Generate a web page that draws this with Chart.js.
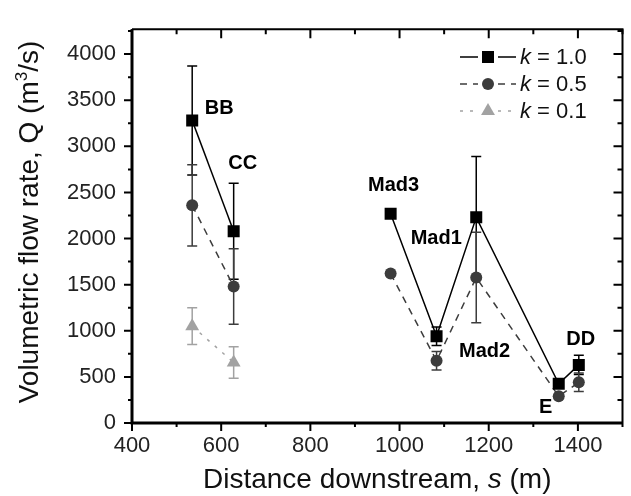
<!DOCTYPE html>
<html>
<head>
<meta charset="utf-8">
<script src="https://cdn.jsdelivr.net/npm/chart.js@4/dist/chart.umd.min.js"></script>
<style>
  html, body { margin: 0; padding: 0; background: #fff; }
  canvas { display: block; }
</style>
</head>
<body>
<canvas id="flowChart" width="631" height="496"></canvas>
<script>
// site positions along the channel (m) and their names
const siteX = [535, 628, 980, 1083, 1172, 1357, 1402];
const siteNames = ['BB', 'CC', 'Mad3', 'Mad2', 'Mad1', 'E', 'DD'];
const breakAfter = 1; // no line between CC and Mad3

// flow rate Q (m3/s) for each k, with error bar half-widths
const k10 = [3280, 2080, 2270, 940, 2230, 425, 630];
const k10Err = [590, 520, 0, 100, 660, 0, 105];
const k05 = [2360, 1480, 1620, 675, 1577, 290, 441];
const k05Err = [440, 410, 0, 100, 490, 0, 100];
const k01 = [1050, 656];
const k01Err = [200, 170];

const seriesLabels = ['1.0', '0.5', '0.1'];
const xTicks = [400, 600, 800, 1000, 1200, 1400];
const yTicks = [0, 500, 1000, 1500, 2000, 2500, 3000, 3500, 4000];

// label offsets in px from the k = 1.0 marker
const labelOffsets = [[27, -12], [9, -68], [3, -28], [48, 15], [-40, 21], [-13, 24], [2, -25]];

const FONT = '"Liberation Sans", Arial, sans-serif';
const colors = ['#000000', '#3c3c3c', '#a2a2a2'];
const dashes = [[], [7, 6], [3, 7]];
const styles = ['rect', 'circle', 'triangle'];
const radii = [8.5, 6, 8];
const errs = [k10Err, k05Err, k01Err];

function pts(vals) {
  return vals.map((v, i) => ({ x: siteX[i], y: v }));
}

function makeSet(i, vals) {
  return {
    label: 'k = ' + seriesLabels[i],
    data: pts(vals),
    borderColor: colors[i],
    backgroundColor: colors[i],
    borderWidth: 1.5,
    borderDash: dashes[i],
    pointStyle: styles[i],
    pointRadius: radii[i],
    pointBorderWidth: 0,
    pointBackgroundColor: colors[i],
    tension: 0,
    segment: {
      borderColor: ctx => ctx.p0DataIndex === breakAfter ? 'transparent' : colors[i]
    }
  };
}

const errorBars = {
  id: 'errorBars',
  beforeDatasetsDraw(chart) {
    const { ctx, scales: { x, y } } = chart;
    ctx.save();
    ctx.lineWidth = 1.5;
    chart.data.datasets.forEach((ds, i) => {
      ctx.strokeStyle = colors[i];
      ds.data.forEach((p, j) => {
        const e = errs[i][j];
        if (!e) return;
        const px = x.getPixelForValue(p.x);
        const top = y.getPixelForValue(p.y + e);
        const bot = y.getPixelForValue(p.y - e);
        ctx.beginPath();
        ctx.moveTo(px, top); ctx.lineTo(px, bot);
        ctx.moveTo(px - 5, top); ctx.lineTo(px + 5, top);
        ctx.moveTo(px - 5, bot); ctx.lineTo(px + 5, bot);
        ctx.stroke();
      });
    });
    ctx.restore();
  }
};

function drawMarker(ctx, style, cx, cy, r) {
  Chart.helpers.drawPoint(ctx, { pointStyle: style, radius: r, borderWidth: 0 }, cx, cy);
}

const frame = {
  id: 'frame',
  afterDraw(chart) {
    const { ctx, chartArea: a, scales: { x, y } } = chart;
    ctx.save();
    ctx.strokeStyle = '#000';
    // frame
    ctx.lineWidth = 3;
    ctx.beginPath();
    ctx.moveTo(a.left, a.top); ctx.lineTo(a.left, a.bottom); ctx.lineTo(a.right, a.bottom);
    ctx.stroke();
    ctx.lineWidth = 2;
    ctx.beginPath();
    ctx.moveTo(a.left, a.top); ctx.lineTo(a.right, a.top); ctx.lineTo(a.right, a.bottom);
    ctx.stroke();
    // ticks
    ctx.lineWidth = 2;
    ctx.beginPath();
    for (let v = 400; v <= 1500; v += 100) {
      const px = x.getPixelForValue(v);
      const len = v % 200 === 0 ? 8 : 4;
      ctx.moveTo(px, a.bottom); ctx.lineTo(px, a.bottom + len);
      ctx.moveTo(px, a.top); ctx.lineTo(px, a.top + len + 1);
    }
    for (let v = 0; v <= 4250; v += 250) {
      const py = y.getPixelForValue(v);
      const len = v % 500 === 0 ? 8 : 4;
      ctx.moveTo(a.left, py); ctx.lineTo(a.left - len, py);
      ctx.moveTo(a.right, py); ctx.lineTo(a.right - len - 1, py);
    }
    ctx.stroke();

    // axis titles
    ctx.fillStyle = '#111';
    ctx.textBaseline = 'alphabetic';
    const TS = 28;
    const xa = 'Distance downstream, ', xs = 's', xb = ' (m)';
    ctx.font = TS + 'px ' + FONT;
    const w1 = ctx.measureText(xa).width, w3 = ctx.measureText(xb).width;
    ctx.font = 'italic ' + TS + 'px ' + FONT;
    const w2 = ctx.measureText(xs).width;
    let sx = (a.left + a.right) / 2 - (w1 + w2 + w3) / 2;
    const sy = 488;
    ctx.font = TS + 'px ' + FONT; ctx.fillText(xa, sx, sy); sx += w1;
    ctx.font = 'italic ' + TS + 'px ' + FONT; ctx.fillText(xs, sx, sy); sx += w2;
    ctx.font = TS + 'px ' + FONT; ctx.fillText(xb, sx, sy);

    ctx.save();
    ctx.translate(38, 222);
    ctx.rotate(-Math.PI / 2);
    const ya = 'Volumetric flow rate, Q (m', ysup = '3', yb = '/s)';
    ctx.font = TS + 'px ' + FONT;
    const v1 = ctx.measureText(ya).width, v3 = ctx.measureText(yb).width;
    ctx.font = '17px ' + FONT;
    const v2 = ctx.measureText(ysup).width;
    let tx = -(v1 + v2 + v3) / 2;
    ctx.font = TS + 'px ' + FONT; ctx.fillText(ya, tx, 0); tx += v1;
    ctx.font = '17px ' + FONT; ctx.fillText(ysup, tx, -11); tx += v2;
    ctx.font = TS + 'px ' + FONT; ctx.fillText(yb, tx, 0);
    ctx.restore();

    // site labels
    ctx.font = 'bold 20px ' + FONT;
    ctx.textAlign = 'center';
    ctx.textBaseline = 'middle';
    ctx.fillStyle = '#000';
    siteNames.forEach((name, i) => {
      const px = x.getPixelForValue(siteX[i]) + labelOffsets[i][0];
      const py = y.getPixelForValue(k10[i]) + labelOffsets[i][1];
      ctx.fillText(name, px, py);
    });

    // legend
    const rowY = [57, 84, 111];
    ctx.textAlign = 'left';
    chart.data.datasets.forEach((ds, i) => {
      const ly = rowY[i];
      ctx.strokeStyle = colors[i];
      ctx.fillStyle = colors[i];
      ctx.lineWidth = 1.5;
      ctx.setLineDash(dashes[i]);
      ctx.beginPath();
      ctx.moveTo(460, ly); ctx.lineTo(478, ly);
      ctx.moveTo(498, ly); ctx.lineTo(516, ly);
      ctx.stroke();
      ctx.setLineDash([]);
      drawMarker(ctx, styles[i], 488, ly, radii[i]);
      ctx.fillStyle = '#111';
      ctx.font = 'italic 22px ' + FONT;
      ctx.fillText('k', 520, ly + 1);
      const kw = ctx.measureText('k').width;
      ctx.font = '22px ' + FONT;
      ctx.fillText(' = ' + seriesLabels[i], 520 + kw, ly + 1);
    });
    ctx.restore();
  }
};

new Chart(document.getElementById('flowChart'), {
  type: 'line',
  data: {
    datasets: [makeSet(0, k10), makeSet(1, k05), makeSet(2, k01)]
  },
  options: {
    responsive: false,
    animation: false,
    layout: { padding: { top: 25, right: 3, left: 0, bottom: 0 } },
    plugins: { legend: { display: false }, tooltip: { enabled: false } },
    scales: {
      x: {
        type: 'linear',
        min: 400,
        max: 1500,
        grid: { display: false, drawTicks: false },
        border: { display: false },
        afterBuildTicks: s => { s.ticks = xTicks.map(v => ({ value: v })); },
        afterFit: s => { s.height = 73; },
        ticks: { color: '#222', padding: 10, maxRotation: 0, font: { family: FONT, size: 22 }, callback: v => String(v) }
      },
      y: {
        min: 0,
        max: 4270,
        grid: { display: false, drawTicks: false },
        border: { display: false },
        afterBuildTicks: s => { s.ticks = yTicks.map(v => ({ value: v })); },
        afterFit: s => { s.width = 132; },
        ticks: { color: '#222', padding: 16, font: { family: FONT, size: 22 }, callback: v => String(v) }
      }
    }
  },
  plugins: [errorBars, frame]
});
</script>
</body>
</html>
